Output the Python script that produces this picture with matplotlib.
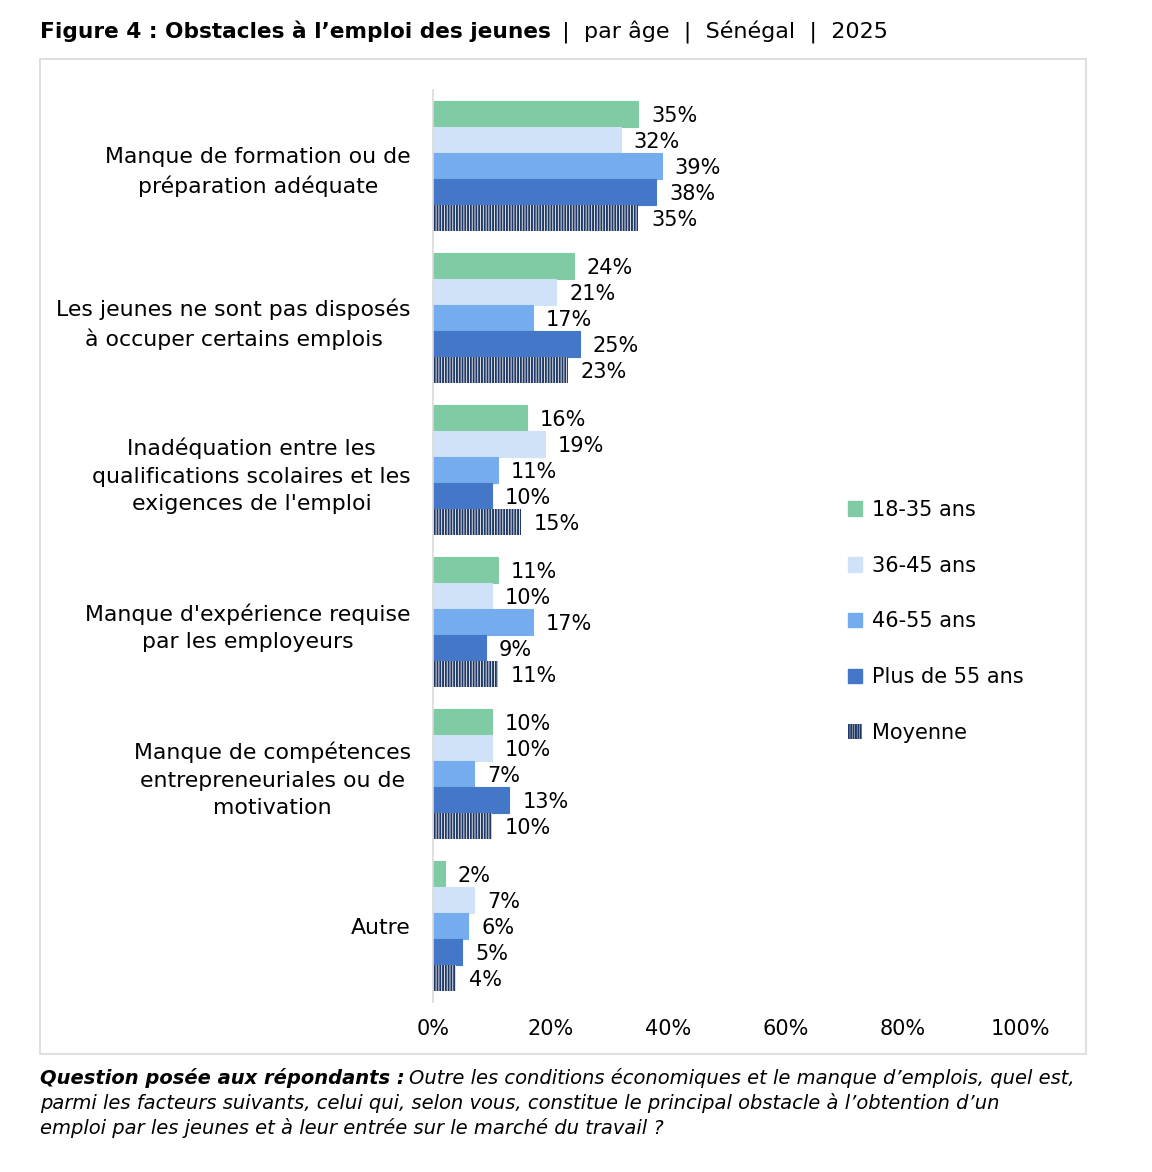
import matplotlib
matplotlib.use("Agg")
import matplotlib.pyplot as plt
from matplotlib.patches import Rectangle, Patch
import numpy as np

plt.rcParams['font.family'] = ['DejaVu Sans']
plt.rcParams['hatch.linewidth'] = 1.4

categories = ["Manque de formation ou de\npréparation adéquate",
              "Les jeunes ne sont pas disposés\nà occuper certains emplois",
              "Inadéquation entre les\nqualifications scolaires et les\nexigences de l'emploi",
              "Manque d'expérience requise\npar les employeurs",
              "Manque de compétences\nentrepreneuriales ou de\nmotivation",
              "Autre"]
series = ["18-35 ans", "36-45 ans", "46-55 ans", "Plus de 55 ans", "Moyenne"]
v_18_35 = [35, 24, 16, 11, 10, 2]
v_36_45 = [32, 21, 19, 10, 10, 7]
v_46_55 = [39, 17, 11, 17, 7, 6]
v_55plus = [38, 25, 10, 9, 13, 5]
v_moy = [35, 23, 15, 11, 10, 4]
values = [v_18_35, v_36_45, v_46_55, v_55plus, v_moy]
colors = ["#7FCBA4", "#CFE2F7", "#75ACEE", "#4477C8", "white"]
navy = "#1F3864"
xticks = [0, 20, 40, 60, 80, 100]

fig = plt.figure(figsize=(11.52, 11.72), dpi=100)
W, H = 1152, 1172
fs = 15

# cadre du graphique
fig.patches.append(Rectangle((40 / W, 1 - 1054 / H), 1046 / W, 995 / H,
                             transform=fig.transFigure, fill=False,
                             edgecolor="#D9D9D9", linewidth=1.2))

ax = fig.add_axes([433 / W, 1 - 1002 / H, 587 / W, 912 / H])
h = 0.171
y = np.arange(len(categories))
handles = []
for k, (s, vals, c) in enumerate(zip(series, values, colors)):
    pos = y + (k - 2) * h
    if s == "Moyenne":
        ax.barh(pos, vals, height=h, color="white", edgecolor=navy,
                hatch="||||||", linewidth=0)
        handles.append(Patch(facecolor="white", edgecolor=navy, hatch="|||||||", linewidth=0, label=s))
    else:
        ax.barh(pos, vals, height=h, color=c, edgecolor=c, linewidth=0.8)
        handles.append(Patch(facecolor=c, edgecolor=c, label=s))
    for p, v in zip(pos, vals):
        ax.text(v + 2.2, p + 0.01, f"{v}%", va="center", ha="left", fontsize=fs, color="black")

ax.set_ylim(len(categories) - 0.5, -0.5)
ax.set_xlim(0, 100)
ax.set_yticks(y)
ax.set_yticklabels(categories, fontsize=15.8, multialignment="center", linespacing=1.47)
ax.set_xticks(xticks)
ax.set_xticklabels([f"{t}%" for t in xticks], fontsize=fs)
ax.tick_params(axis="both", length=0)
ax.tick_params(axis="y", pad=16)
ax.tick_params(axis="x", pad=12)
for sp in ["top", "right", "bottom"]:
    ax.spines[sp].set_visible(False)
ax.spines["left"].set_color("#D9D9D9")
ax.spines["left"].set_linewidth(1.2)

fig.legend(handles=handles, loc="upper left", bbox_to_anchor=(829 / W, 1 - 481 / H),
           frameon=False, fontsize=fs, handlelength=0.7, handleheight=0.7,
           handletextpad=0.45, labelspacing=1.72)

# titre en deux parties
fig.canvas.draw()
r = fig.canvas.get_renderer()
tfs = 15.6
t1 = fig.text(40 / W, 1 - 38 / H, "Figure 4 : Obstacles à l’emploi des jeunes", fontsize=tfs,
              fontweight="bold", va="baseline", ha="left")
bb = t1.get_window_extent(renderer=r)
fig.text((bb.x1 + 4) / W, 1 - 38 / H, " |  par âge  |  Sénégal  |  2025", fontsize=tfs + 0.4,
         va="baseline", ha="left")

# note
nfs = 14
q1 = fig.text(40 / W, 1 - 1078 / H, "Question posée aux répondants :", fontsize=nfs,
              fontweight="bold", fontstyle="italic", va="center", ha="left")
bb = q1.get_window_extent(renderer=r)
fig.text((bb.x1 + 4) / W, 1 - 1078 / H, "Outre les conditions économiques et le manque d’emplois, quel est,",
         fontsize=nfs, fontstyle="italic", va="center", ha="left")
fig.text(40 / W, 1 - 1103 / H, "parmi les facteurs suivants, celui qui, selon vous, constitue le principal obstacle à l’obtention d’un",
         fontsize=nfs, fontstyle="italic", va="center", ha="left")
fig.text(40 / W, 1 - 1128 / H, "emploi par les jeunes et à leur entrée sur le marché du travail ?",
         fontsize=nfs, fontstyle="italic", va="center", ha="left")

fig.savefig("out.png", dpi=100)
